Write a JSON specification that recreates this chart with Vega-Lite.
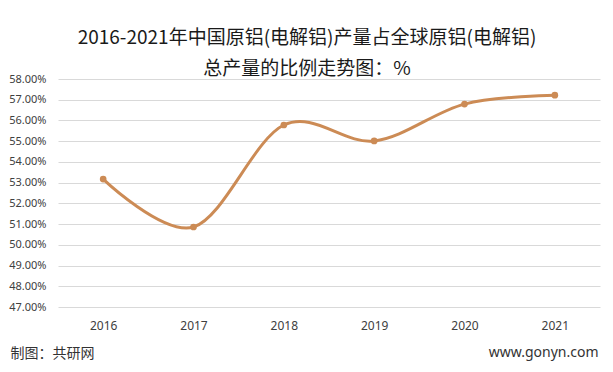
{
  "$schema": "https://vega.github.io/schema/vega-lite/v6.json",
  "autosize": "none",
  "width": 542,
  "height": 228,
  "padding": {"left": 58, "top": 79, "right": 13, "bottom": 65},
  "background": "white",
  "title": {
    "text": ["2016-2021年中国原铝(电解铝)产量占全球原铝(电解铝)", "总产量的比例走势图：%"],
    "font": "Noto Sans CJK SC",
    "fontSize": 19,
    "fontWeight": "normal",
    "color": "#1a1a1a",
    "lineHeight": 31,
    "anchor": "middle",
    "dx": -22,
    "dy": 25,
    "offset": 0,
    "baseline": "bottom"
  },
  "data": {
    "values": [
      {"year": "2016", "ratio": 0.5317},
      {"year": "2017", "ratio": 0.5086},
      {"year": "2018", "ratio": 0.5578},
      {"year": "2019", "ratio": 0.5501},
      {"year": "2020", "ratio": 0.5679},
      {"year": "2021", "ratio": 0.5722}
    ]
  },
  "encoding": {
    "x": {
      "field": "year",
      "type": "ordinal",
      "scale": {"paddingInner": 0, "paddingOuter": 0},
      "axis": {
        "title": "制图：共研网",
        "titleFont": "Noto Sans CJK SC",
        "titleFontSize": 14,
        "titleFontWeight": "normal",
        "titleColor": "#333333",
        "titleAnchor": null,
        "titleAlign": "left",
        "titleBaseline": "middle",
        "titleX": -48,
        "titleY": 46,
        "labelAngle": 0,
        "labelFont": "Noto Sans",
        "labelFontSize": 12,
        "labelColor": "#404040",
        "labelPadding": 13,
        "ticks": false,
        "domain": false,
        "grid": false
      }
    },
    "y": {
      "field": "ratio",
      "type": "quantitative",
      "scale": {"domain": [0.47, 0.58], "nice": false, "zero": false},
      "axis": {
        "title": "www.gonyn.com",
        "titleAngle": 0,
        "titleFont": "Noto Sans",
        "titleFontSize": 14,
        "titleFontWeight": "normal",
        "titleColor": "#333333",
        "titleAnchor": null,
        "titleAlign": "right",
        "titleBaseline": "middle",
        "titleX": 540,
        "titleY": 273,
        "values": [0.47, 0.48, 0.49, 0.5, 0.51, 0.52, 0.53, 0.54, 0.55, 0.56, 0.57, 0.58],
        "format": ".2%",
        "labelFont": "Noto Sans",
        "labelFontSize": 11,
        "labelColor": "#404040",
        "labelPadding": 12,
        "ticks": false,
        "domain": false,
        "grid": true,
        "gridColor": "#d9d9d9",
        "gridWidth": 1
      }
    }
  },
  "layer": [
    {
      "mark": {"type": "line", "interpolate": "cardinal", "color": "#cc8b55", "strokeWidth": 3}
    },
    {
      "mark": {"type": "point", "filled": true, "color": "#cc8b55", "size": 45, "opacity": 1}
    }
  ],
  "config": {"view": {"stroke": null}}
}
